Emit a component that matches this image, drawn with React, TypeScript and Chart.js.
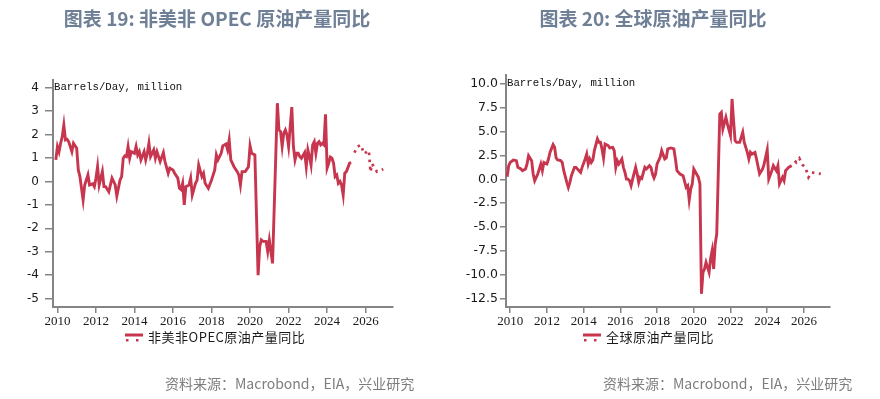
import React, { useEffect, useRef } from 'react';
import { Chart, registerables } from 'chart.js';
Chart.register(...registerables);

// ---------- data: non-US non-OPEC crude output YoY (million b/d) ----------
const nonOpecMonths = [
  '2009-12','2010-01','2010-02','2010-03','2010-04','2010-05','2010-06','2010-07','2010-08','2010-10','2010-11',
  '2011-01','2011-02','2011-03','2011-05','2011-06','2011-08','2011-09','2011-11','2011-12',
  '2012-01','2012-02','2012-03','2012-05','2012-06','2012-07','2012-09','2012-11',
  '2013-01','2013-02','2013-04','2013-05','2013-06','2013-07','2013-08','2013-09','2013-10','2013-11',
  '2014-01','2014-02','2014-03','2014-04','2014-05','2014-07','2014-08','2014-09','2014-10','2014-11',
  '2015-01','2015-02','2015-03','2015-05','2015-07','2015-08','2015-10','2015-11',
  '2016-01','2016-02','2016-04','2016-05','2016-06','2016-07','2016-08','2016-09','2016-11','2016-12',
  '2017-01','2017-03','2017-04','2017-05','2017-07','2017-08','2017-09','2017-11',
  '2018-01','2018-03','2018-04','2018-05','2018-07','2018-08','2018-10','2018-11','2018-12',
  '2019-01','2019-03','2019-05','2019-06','2019-07','2019-08','2019-10','2019-12',
  '2020-01','2020-02','2020-04','2020-06','2020-07','2020-08','2020-09','2020-11','2020-12',
  '2021-01','2021-03','2021-06','2021-07','2021-08','2021-09','2021-10','2021-11','2021-12',
  '2022-01','2022-03','2022-04','2022-05','2022-06','2022-07','2022-08','2022-09','2022-11','2022-12',
  '2023-01','2023-02','2023-03','2023-04','2023-05','2023-06','2023-07','2023-08','2023-09','2023-10','2023-11','2023-12',
  '2024-01','2024-02','2024-03','2024-04','2024-05','2024-06','2024-07','2024-08','2024-09','2024-10','2024-11','2024-12',
  '2025-01','2025-03','2025-04',
];
const nonOpecValues = [
  0.92, 1.49, 1.27, 1.63, 1.91, 2.41, 1.77, 1.8, 1.7, 1.27, 1.63,
  1.42, 0.49, 0.21, -0.79, -0.15, 0.28, -0.15, -0.1, -0.22,
  0.14, 0.63, -0.15, 0.42, -0.22, -0.22, -0.44, 0.14,
  -0.15, -0.62, 0.06, 0.21, 0.99, 1.09, 1.06, 1.49, 0.99, 1.27,
  1.2, 1.49, 1.13, 1.27, 0.92, 1.27, 0.92, 1.2, 1.63, 1.06,
  1.35, 0.99, 1.27, 0.85, 1.23, 0.85, 0.35, 0.57,
  0.49, 0.35, 0.14, -0.29, -0.35, -0.08, -1.0, -0.22, -0.15, 0.14,
  -0.58, -0.08, 0.06, 0.7, 0.21, 0.35, -0.08, -0.29,
  0.06, 0.49, 1.13, 0.92, 1.2, 1.52, 1.6, 1.35, 1.77,
  0.92, 0.63, 0.42, 0.28, -0.15, 0.42, 0.42, 0.63,
  1.52, 1.2, 1.13, -4.0, -2.78, -2.5, -2.56, -2.56, -2.99,
  -2.5, -3.5, 3.34, 2.2, 2.13, 1.49, 2.06, 2.2, 1.98,
  1.49, 3.17, 1.49, 0.92, 1.2, 1.2, 1.06, 0.99, 1.23, 0.63,
  1.35, 1.06, 0.7, 1.56, 1.7, 1.2, 1.63, 1.7, 1.56, 1.63, 1.56, 2.87,
  0.57, 0.78, 1.04, 0.99, 0.78, 0.21, 0.28, -0.08, 0.0, -0.15, -0.58, 0.35,
  0.42, 0.78, 0.8,
];
const nonOpecFcMonths = ['2025-06','2025-08','2025-10','2025-12','2026-01','2026-03','2026-04','2026-05','2026-08','2026-12'];
const nonOpecFcValues = [1.23, 1.49, 1.56, 1.18, 1.23, 1.32, 0.4, 0.75, 0.42, 0.52];

// ---------- data: global crude output YoY (million b/d) ----------
const globalMonths = [
  '2009-11','2009-12','2010-01','2010-03','2010-05','2010-06','2010-08','2010-09','2010-11','2010-12',
  '2011-01','2011-03','2011-04','2011-05','2011-07','2011-09','2011-10','2011-11',
  '2012-01','2012-02','2012-03','2012-05','2012-06','2012-07','2012-08','2012-10','2012-11','2012-12',
  '2013-02','2013-03','2013-04','2013-05','2013-07','2013-08','2013-10','2013-11','2013-12',
  '2014-02','2014-03','2014-04','2014-05','2014-06','2014-07','2014-08','2014-10','2014-11','2014-12',
  '2015-01','2015-02','2015-03','2015-05','2015-06','2015-08','2015-09','2015-10','2015-11','2015-12',
  '2016-02','2016-03','2016-04','2016-05','2016-06','2016-07','2016-08','2016-09','2016-11','2016-12',
  '2017-01','2017-02','2017-03','2017-05','2017-06','2017-08','2017-09','2017-10','2017-11','2017-12',
  '2018-01','2018-03','2018-04','2018-06','2018-07','2018-08','2018-10','2018-12',
  '2019-01','2019-02','2019-04','2019-06','2019-08','2019-09','2019-10','2019-11','2019-12',
  '2020-01','2020-04','2020-05','2020-06','2020-07','2020-08','2020-09','2020-11','2020-12',
  '2021-01','2021-02','2021-03','2021-04','2021-06','2021-07','2021-08','2021-10','2021-11',
  '2022-01','2022-02','2022-03','2022-04','2022-05','2022-07','2022-09','2022-10','2022-12',
  '2023-01','2023-02','2023-03','2023-05','2023-06','2023-08','2023-10','2023-11',
  '2024-01','2024-02','2024-04','2024-05','2024-07','2024-08','2024-09','2024-11','2024-12',
  '2025-01','2025-02','2025-03','2025-05',
];
const globalValues = [
  0.28, 1.43, 1.78, 2.03, 1.96, 1.26, 1.09, 0.91, 1.09, 1.61,
  2.48, 1.96, 0.56, -0.14, 0.56, 1.61, 0.91, 1.78,
  1.61, 2.13, 2.83, 3.64, 3.36, 2.24, 2.03, 1.96, 1.78, 0.91,
  -0.31, -0.84, -0.31, 0.38, 1.26, 1.26, 0.91, 0.73, 1.26,
  2.13, 2.66, 1.61, 2.13, 1.78, 2.03, 3.01, 4.24, 3.89, 3.89,
  3.19, 2.24, 3.71, 3.54, 3.29, 3.36, 3.01, 1.26, 1.96, 1.61,
  2.13, 1.26, 0.73, 0.03, 0.03, -0.14, -0.66, 0.03, 1.26, 0.56,
  -0.31, 0.21, 0.1, 1.26, 1.09, 1.43, 1.26, 0.56, 0.14, 0.56,
  1.61, 2.31, 3.01, 2.13, 2.24, 3.19, 3.29, 3.19,
  2.13, 0.91, 0.56, 0.38, -0.84, -0.66, -2.16, -1.01, -0.49,
  1.09, 0.21, -0.48, -12.0, -9.75, -9.4, -8.7, -9.75, -8.3,
  -7.47, -9.4, -6.77, -5.72, 6.85, 7.02, 5.28, 6.5, 5.8,
  4.58, 8.43, 6.15, 4.06, 3.88, 3.88, 4.93, 3.88, 2.83,
  2.14, 2.83, 2.65, 2.83, 2.14, 0.57, 1.1, 1.62,
  3.08, 0.04, 0.91, 1.44, 0.91, 1.44, -0.48, 0.22, -0.14,
  0.91, 1.08, 1.26, 1.44,
];
const globalFcMonths = ['2025-07','2025-08','2025-10','2025-12','2026-02','2026-04','2026-06','2026-12'];
const globalFcValues = [1.95, 1.78, 2.2, 1.54, 1.26, 0.21, 0.73, 0.57];

// ---------- axes ----------
const yearTicks = [2010, 2012, 2014, 2016, 2018, 2020, 2022, 2024, 2026];
const leftYTicks = [-5, -4, -3, -2, -1, 0, 1, 2, 3, 4];
const rightYTicks = [-12.5, -10, -7.5, -5, -2.5, 0, 2.5, 5, 7.5, 10];

const LINE = '#c7364e';
const AXIS = '#858585';

function monthToX(m: string): number {
  const [y, mo] = m.split('-').map(Number);
  return y + (mo - 1) / 12;
}
function pts(months: string[], values: number[]) {
  return months.map((m, i) => ({ x: monthToX(m), y: values[i] }));
}

const overlayPlugin = {
  id: 'overlay',
  afterDraw(chart: any, _args: any, o: any) {
    const ctx = chart.ctx;
    const ys = chart.scales.y;
    ctx.save();
    ctx.fillStyle = '#111';
    ctx.textBaseline = 'middle';
    ctx.textAlign = 'left';
    ctx.font = '10.7px "Liberation Mono"';
    ctx.fillText('Barrels/Day, million', chart.chartArea.left + 1, ys.getPixelForValue(o.unitAt) - 0.5);
    // legend
    const lx = o.legendX;
    const ly = o.legendY;
    ctx.fillStyle = LINE;
    ctx.fillRect(lx, ly - 3.5, 18, 3);
    ctx.fillRect(lx + 1, ly + 2, 2.5, 2.5);
    ctx.fillRect(lx + 11, ly + 2, 2.5, 2.5);
    ctx.fillStyle = '#1a1a1a';
    ctx.font = '13px "Noto Sans CJK SC"';
    try { (ctx as any).letterSpacing = '0.5px'; } catch (e) {}
    ctx.fillText(o.legendText, lx + 23, ly + 0.5);
    ctx.restore();
  },
};

type Cfg = {
  actual: { x: number; y: number }[];
  forecast: { x: number; y: number }[];
  yMin: number; yMax: number; yTicks: number[];
  yFmt: (v: number) => string;
  yWidth: number; yFontSize: number; yTickLen: number; yPad: number;
  padding: { left: number; top: number; right: number; bottom: number };
  unitAt: number; legendText: string; legendX: number;
};

function ChartPanel({ cfg, left }: { cfg: Cfg; left: number }) {
  const ref = useRef<HTMLCanvasElement | null>(null);
  useEffect(() => {
    if (!ref.current) return;
    const chart = new Chart(ref.current, {
      type: 'line',
      data: {
        datasets: [
          {
            data: cfg.actual,
            borderColor: LINE,
            borderWidth: 2.9,
            pointRadius: 0,
            tension: 0,
            fill: false,
          },
          {
            data: cfg.forecast,
            borderColor: LINE,
            borderWidth: 2.7,
            borderDash: [2.5, 4.5],
            pointRadius: 0,
            tension: 0,
            fill: false,
          },
        ],
      } as any,
      options: {
        responsive: false,
        animation: false,
        devicePixelRatio: 1,
        layout: { padding: cfg.padding },
        plugins: {
          legend: { display: false },
          tooltip: { enabled: false },
          overlay: { unitAt: cfg.unitAt, legendText: cfg.legendText, legendX: cfg.legendX, legendY: 337 },
        } as any,
        scales: {
          x: {
            type: 'linear',
            min: 2009.77,
            max: 2027.42,
            afterBuildTicks: (s: any) => { s.ticks = yearTicks.map((v) => ({ value: v })); },
            afterFit: (s: any) => { s.height = 22; },
            grid: { drawOnChartArea: false, drawTicks: true, tickLength: 6, color: AXIS, lineWidth: 1.5 },
            border: { display: true, color: AXIS, width: 2 },
            ticks: {
              autoSkip: false, maxRotation: 0, padding: 1, color: '#1a1a1a',
              font: { family: 'Liberation Serif', size: 13 },
              callback: (v: any) => String(v),
            },
          },
          y: {
            type: 'linear',
            min: cfg.yMin,
            max: cfg.yMax,
            afterBuildTicks: (s: any) => { s.ticks = cfg.yTicks.map((v) => ({ value: v })); },
            afterFit: (s: any) => { s.width = cfg.yWidth; },
            grid: { drawOnChartArea: false, drawTicks: true, tickLength: cfg.yTickLen, color: AXIS, lineWidth: 1.5 },
            border: { display: true, color: AXIS, width: 2 },
            ticks: {
              padding: cfg.yPad, color: '#1a1a1a',
              font: { family: 'DejaVu Sans', size: cfg.yFontSize },
              callback: (v: any) => cfg.yFmt(Number(v)),
            },
          },
        } as any,
      },
      plugins: [overlayPlugin as any],
    });
    return () => chart.destroy();
  }, []);
  return (
    <canvas
      ref={ref}
      width={440}
      height={399}
      style={{ position: 'absolute', left, top: 0, width: 440, height: 399 }}
    />
  );
}

const leftCfg: Cfg = {
  actual: pts(nonOpecMonths, nonOpecValues),
  forecast: pts(nonOpecFcMonths, nonOpecFcValues),
  yMin: -5.36, yMax: 4.33, yTicks: leftYTicks,
  yFmt: (v) => String(v),
  yWidth: 53, yFontSize: 12, yTickLen: 8, yPad: 6,
  padding: { left: 0, top: 80, right: 47, bottom: 70 },
  unitAt: 4, legendText: '非美非OPEC原油产量同比', legendX: 125,
};
const rightCfg: Cfg = {
  actual: pts(globalMonths, globalValues),
  forecast: pts(globalFcMonths, globalFcValues),
  yMin: -13.38, yMax: 10.94, yTicks: rightYTicks,
  yFmt: (v) => v.toFixed(1),
  yWidth: 66, yFontSize: 12.5, yTickLen: 6, yPad: 2,
  padding: { left: 0, top: 75, right: 50, bottom: 70 },
  unitAt: 10, legendText: '全球原油产量同比', legendX: 143,
};

const titleStyle: React.CSSProperties = {
  position: 'absolute', top: 5, height: 26, lineHeight: '26px', textAlign: 'center',
  fontFamily: '"Noto Sans CJK SC", sans-serif', fontWeight: 700, fontSize: 19, color: '#6e7f96',
  whiteSpace: 'nowrap',
};
const sourceStyle: React.CSSProperties = {
  position: 'absolute', top: 374, height: 18, lineHeight: '18px',
  fontFamily: '"Noto Sans CJK SC", sans-serif', fontSize: 14, color: '#7d7d7d', whiteSpace: 'nowrap',
};

export default function App() {
  return (
    <div style={{ position: 'absolute', left: 0, top: 0, width: 880, height: 399, background: '#fff', overflow: 'hidden' }}>
      <ChartPanel cfg={leftCfg} left={0} />
      <ChartPanel cfg={rightCfg} left={440} />
      <div style={{ ...titleStyle, left: 0, width: 434 }}>图表 19: 非美非 OPEC 原油产量同比</div>
      <div style={{ ...titleStyle, left: 440, width: 426 }}>图表 20: 全球原油产量同比</div>
      <div style={{ ...sourceStyle, left: 165 }}>资料来源：Macrobond，EIA，兴业研究</div>
      <div style={{ ...sourceStyle, left: 603 }}>资料来源：Macrobond，EIA，兴业研究</div>
    </div>
  );
}
